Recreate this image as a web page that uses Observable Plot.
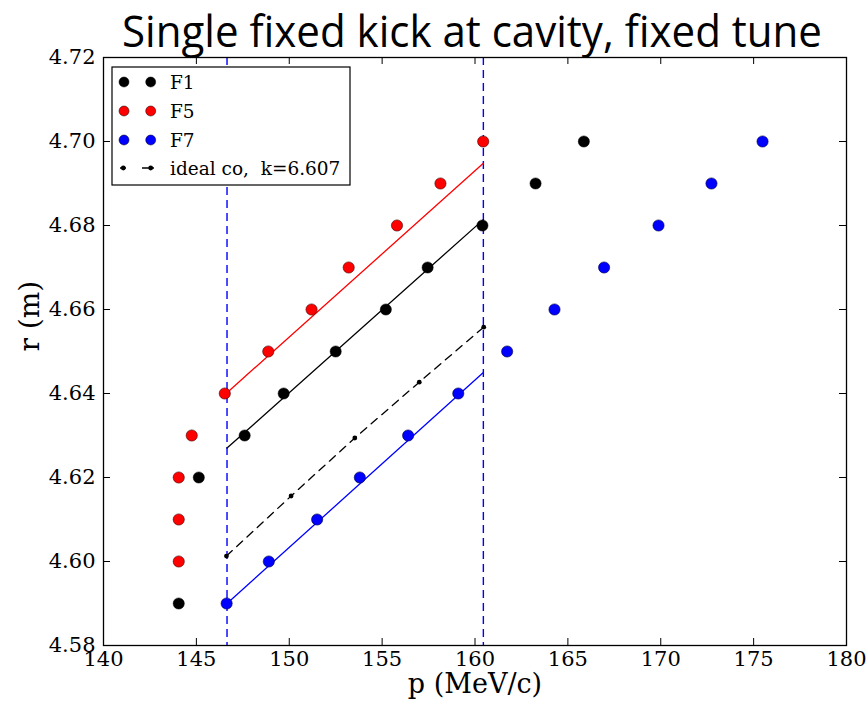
<!DOCTYPE html>
<html>
<head>
<meta charset="utf-8">
<script src="https://cdn.jsdelivr.net/npm/d3@7"></script>
<script src="https://cdn.jsdelivr.net/npm/@observablehq/plot@0.6"></script>
<style>
  html, body { margin: 0; padding: 0; background: white; }
  #chart svg { display: block; }
</style>
</head>
<body>
<div id="chart"></div>
<script>
// ---- data ----
const title = "Single fixed kick at cavity, fixed tune";
const xLabel = "p (MeV/c)";
const yLabel = "r (m)";
const xTicks = [140, 145, 150, 155, 160, 165, 170, 175, 180];
const yTicks = [4.58, 4.60, 4.62, 4.64, 4.66, 4.68, 4.70, 4.72];

const f1P = [144.05, 145.13, 147.6, 149.7, 152.5, 155.2, 157.45, 160.4, 163.26, 165.86];
const f1R = [4.59, 4.62, 4.63, 4.64, 4.65, 4.66, 4.67, 4.68, 4.69, 4.70];
const f5P = [144.05, 144.05, 144.05, 144.75, 146.53, 148.87, 151.2, 153.2, 155.8, 158.14, 160.44];
const f5R = [4.60, 4.61, 4.62, 4.63, 4.64, 4.65, 4.66, 4.67, 4.68, 4.69, 4.70];
const f7P = [146.63, 148.9, 151.5, 153.8, 156.4, 159.1, 161.73, 164.28, 166.95, 169.88, 172.73, 175.48];
const f7R = [4.59, 4.60, 4.61, 4.62, 4.63, 4.64, 4.65, 4.66, 4.67, 4.68, 4.69, 4.70];

const idealP = [146.62, 150.1, 153.53, 157.0, 160.47];
const idealR = [4.6013, 4.6156, 4.6294, 4.6427, 4.6558];

const fitP = [146.65, 160.45];
const fitF1R = [4.627, 4.6814];
const fitF5R = [4.6402, 4.6948];
const fitF7R = [4.590, 4.645];

const cavityP = [146.65, 160.45];

const legendLabels = ["F1", "F5", "F7", "ideal co,  k=6.607"];
const legendColors = ["black", "red", "blue", "black"];

// ---- build tables ----
const zip = (xs, ys) => xs.map((x, i) => ({p: x, r: ys[i]}));
const F1 = zip(f1P, f1R), F5 = zip(f5P, f5R), F7 = zip(f7P, f7R);
const ideal = zip(idealP, idealR);
const fit1 = zip(fitP, fitF1R), fit5 = zip(fitP, fitF5R), fit7 = zip(fitP, fitF7R);

const serif = "DejaVu Serif";
const frameW = 868 - 103 - 22, frameH = 702 - 57 - 57;
const tickLen = 7;

const chart = Plot.plot({
  width: 868,
  height: 702,
  marginLeft: 103,
  marginRight: 22,
  marginTop: 57,
  marginBottom: 57,
  x: {domain: [140, 180]},
  y: {domain: [4.58, 4.72]},
  style: {fontFamily: serif, background: "white", color: "black", overflow: "visible"},
  marks: [
    // cavity lines
    Plot.ruleX(cavityP, {stroke: "blue", strokeWidth: 1.4, strokeDasharray: "8,5"}),
    // fits
    Plot.line(fit5, {x: "p", y: "r", stroke: "#ff0000", strokeWidth: 1.3}),
    Plot.line(fit1, {x: "p", y: "r", stroke: "black", strokeWidth: 1.3}),
    Plot.line(fit7, {x: "p", y: "r", stroke: "blue", strokeWidth: 1.3}),
    Plot.line(ideal, {x: "p", y: "r", stroke: "black", strokeWidth: 1.3, strokeDasharray: "8,6"}),
    Plot.dot(ideal, {x: "p", y: "r", r: 2.4, fill: "black"}),
    // data points
    Plot.dot(F1, {x: "p", y: "r", r: 5.6, fill: "black", stroke: "black", strokeWidth: 0.5}),
    Plot.dot(F5, {x: "p", y: "r", r: 5.6, fill: "#ff0000", stroke: "#400000", strokeWidth: 0.6}),
    Plot.dot(F7, {x: "p", y: "r", r: 5.6, fill: "#0000ff", stroke: "#000040", strokeWidth: 0.6}),
    // inward ticks
    Plot.ruleX(xTicks, {stroke: "black", strokeWidth: 1, insetTop: frameH - tickLen}),
    Plot.ruleX(xTicks, {stroke: "black", strokeWidth: 1, insetBottom: frameH - tickLen}),
    Plot.ruleY(yTicks, {stroke: "black", strokeWidth: 1, insetRight: frameW - tickLen}),
    Plot.ruleY(yTicks, {stroke: "black", strokeWidth: 1, insetLeft: frameW - tickLen}),
    Plot.frame({stroke: "black", strokeWidth: 1.3}),
    // axes
    Plot.axisX(xTicks, {anchor: "bottom", tickSize: 0, tickPadding: 6, fontSize: 21, fill: "black", label: null, tickFormat: d3.format("d")}),
    Plot.axisY(yTicks, {anchor: "left", tickSize: 0, tickPadding: 8, fontSize: 21, fill: "black", label: null, tickFormat: d3.format(".2f")}),
    // axis labels
    Plot.text([xLabel], {frameAnchor: "bottom", dy: 47, lineAnchor: "bottom", fontSize: 27, fill: "black", fontFamily: serif}),
    Plot.text([yLabel], {frameAnchor: "left", dx: -65, rotate: -90, lineAnchor: "bottom", fontSize: 28, fill: "black", fontFamily: serif}),
    // title
    Plot.text([title], {frameAnchor: "top", dx: -3, dy: -11, lineAnchor: "bottom", fontSize: 44, fill: "black",
      fontFamily: "'Liberation Sans Narrow', 'Open Sans', sans-serif"})
  ]
});

document.getElementById("chart").appendChild(chart);

// fit title width
d3.select(chart).selectAll("text").filter(function () { return this.textContent === title; })
  .attr("textLength", 700).attr("lengthAdjust", "spacingAndGlyphs");

// ---- legend ----
const svg = d3.select(chart);
const lg = svg.append("g");
lg.append("rect")
  .attr("x", 112).attr("y", 67).attr("width", 238).attr("height", 118)
  .attr("fill", "white").attr("stroke", "black").attr("stroke-width", 1.2);
const rowY = [82, 111, 140, 168];
legendLabels.forEach((label, i) => {
  const y = rowY[i];
  if (i < 3) {
    [124, 150.7].forEach(x => lg.append("circle").attr("cx", x).attr("cy", y).attr("r", 5)
      .attr("fill", legendColors[i]).attr("stroke", "black").attr("stroke-width", 0.5));
  } else {
    lg.append("line").attr("x1", 120).attr("x2", 154).attr("y1", y).attr("y2", y)
      .attr("stroke", "black").attr("stroke-width", 1.3).attr("stroke-dasharray", "6,16,12");
    [123.3, 150.7].forEach(x => lg.append("circle").attr("cx", x).attr("cy", y).attr("r", 2.4).attr("fill", "black"));
  }
  lg.append("text").attr("x", 170).attr("y", y).attr("dy", "0.36em")
    .style("font-family", serif).style("font-size", "18.5px").style("text-anchor", "start")
    .attr("fill", "black")
    .style("white-space", "pre").text(label);
});
</script>
</body>
</html>
